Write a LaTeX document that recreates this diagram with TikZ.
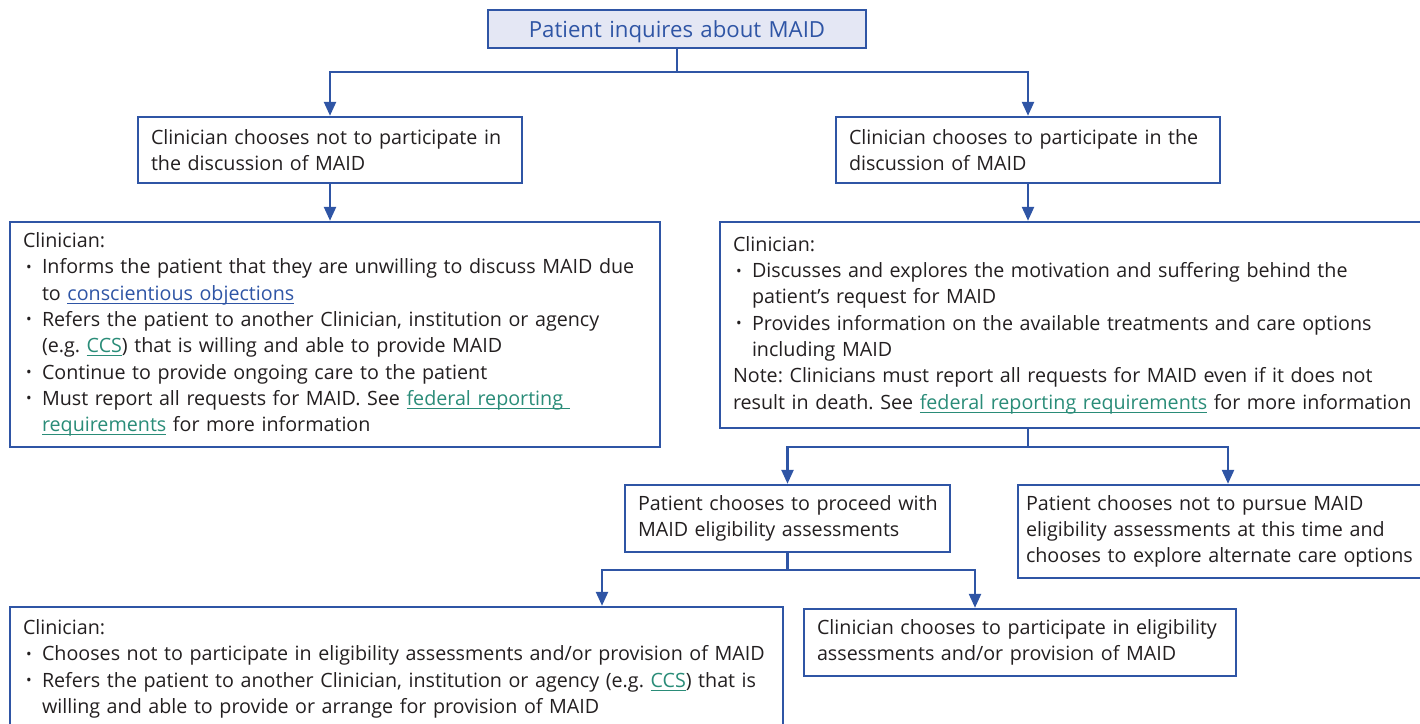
\documentclass[tikz,border=0pt]{standalone}
\usepackage{fontspec}
\setmainfont{Open Sans}
\usetikzlibrary{arrows.meta,calc}
\definecolor{bblue}{HTML}{2F55A5}
\definecolor{tfill}{HTML}{E4E7F4}
\definecolor{txt}{HTML}{231F20}
\definecolor{lblue}{HTML}{2F55A5}
\definecolor{lteal}{HTML}{2A8C78}
\frenchspacing
\newcommand\lk[2]{\textcolor{#1}{\setbox0\hbox{#2}\rlap{\rule[-3.5pt]{\wd0}{0.9pt}}\box0}}
\newcommand\bul{\makebox[19pt][l]{\hspace{3pt}{\fontsize{15}{15}\selectfont\raisebox{1.5pt}{•}}}}
\newcommand\ind{\hspace*{19pt}}
\tikzset{
  box/.style={draw=bblue, line width=2.4pt, rectangle, inner xsep=13pt, inner ysep=0pt,
    outer sep=0pt, align=left, text=txt, anchor=north west, font=\fontsize{19.7}{26.3}\selectfont},
  line/.style={draw=bblue, line width=2.4pt},
  arr/.style={line, -{Triangle[length=14pt,width=12pt]}, shorten >=1.2pt},
}
\begin{document}
\begin{tikzpicture}[x=1pt,y=-1pt]
\useasboundingbox (0,0) rectangle (1420,723);
\node[box, fill=tfill, text=bblue, align=center, text width=352pt, minimum height=38pt,
  text height=18pt, text depth=2pt,
  font=\fontsize{22.2}{24}\selectfont] (top) at (488,10) {Patient inquires about MAID};
\node[box, text width=358pt, minimum height=66pt] (b2L) at (138,117)
  {\mbox{Clinician chooses not to participate in}\\\mbox{the discussion of MAID}};
\node[box, text width=358pt, minimum height=66pt] (b2R) at (836,117)
  {\mbox{Clinician chooses to participate in the}\\\mbox{discussion of MAID}};
\node[box, text width=624pt, minimum height=225pt] (b3L) at (10,222)
  {\mbox{Clinician:}\\
   \bul\mbox{Informs the patient that they are unwilling to discuss MAID due}\\
   \ind\mbox{to \lk{lblue}{conscientious objections}}\\
   \bul\mbox{Refers the patient to another Clinician, institution or agency}\\
   \ind\mbox{(e.g. \lk{lteal}{CCS}) that is willing and able to provide MAID}\\
   \bul\mbox{Continue to provide ongoing care to the patient}\\
   \bul\mbox{Must report all requests for MAID. See \lk{lteal}{federal reporting\ }}\\
   \ind\mbox{\lk{lteal}{requirements} for more information}};
\node[box, text width=678pt, minimum height=206pt] (b3R) at (720,222)
  {\mbox{Clinician:}\\
   \bul\mbox{Discusses and explores the motivation and suffering behind the}\\
   \ind\mbox{patient’s request for MAID}\\
   \bul\mbox{Provides information on the available treatments and care options}\\
   \ind\mbox{including MAID}\\
   \mbox{Note: Clinicians must report all requests for MAID even if it does not}\\
   \mbox{result in death. See \lk{lteal}{federal reporting requirements} for more information}};
\node[box, text width=299pt, minimum height=67pt] (b4L) at (625,485)
  {\mbox{Patient chooses to proceed with}\\\mbox{MAID eligibility assessments}};
\node[box, inner xsep=8pt, text width=390pt, minimum height=93pt] (b4R) at (1018,485)
  {\mbox{Patient chooses not to pursue MAID}\\\mbox{eligibility assessments at this time and}\\\mbox{chooses to explore alternate care options}};
\node[box, text width=747pt, minimum height=124pt] (b5L) at (10,607)
  {\mbox{Clinician:}\\
   \bul\mbox{Chooses not to participate in eligibility assessments and/or provision of MAID}\\
   \bul\mbox{Refers the patient to another Clinician, institution or agency (e.g. \lk{lteal}{CCS}) that is}\\
   \ind\mbox{willing and able to provide or arrange for provision of MAID}};
\node[box, text width=406pt, minimum height=67pt] (b5R) at (804,609)
  {\mbox{Clinician chooses to participate in eligibility}\\\mbox{assessments and/or provision of MAID}};
% connectors
\draw[line] (top.south) -- ++(0,24) coordinate (j1);
\draw[arr] (j1) -| (b2L.north);
\draw[arr] (j1) -| (b2R.north);
\draw[arr] (b2L.south) -- (b2L.south |- b3L.north);
\draw[arr] (b2R.south) -- (b2R.south |- b3R.north);
\draw[line] (b2R.south |- b3R.south) -- ++(0,19) coordinate (j2);
\coordinate (t4R) at (1228,485);
\draw[arr] (j2) -| (b4L.north);
\draw[arr] (j2) -| (t4R);
\draw[line] (b4L.south) -- ++(0,18) coordinate (j3);
\coordinate (t5L) at (602,607);
\coordinate (t5R) at (975,609);
\draw[arr] (j3) -| (t5L);
\draw[arr] (j3) -| (t5R);
\end{tikzpicture}
\end{document}
